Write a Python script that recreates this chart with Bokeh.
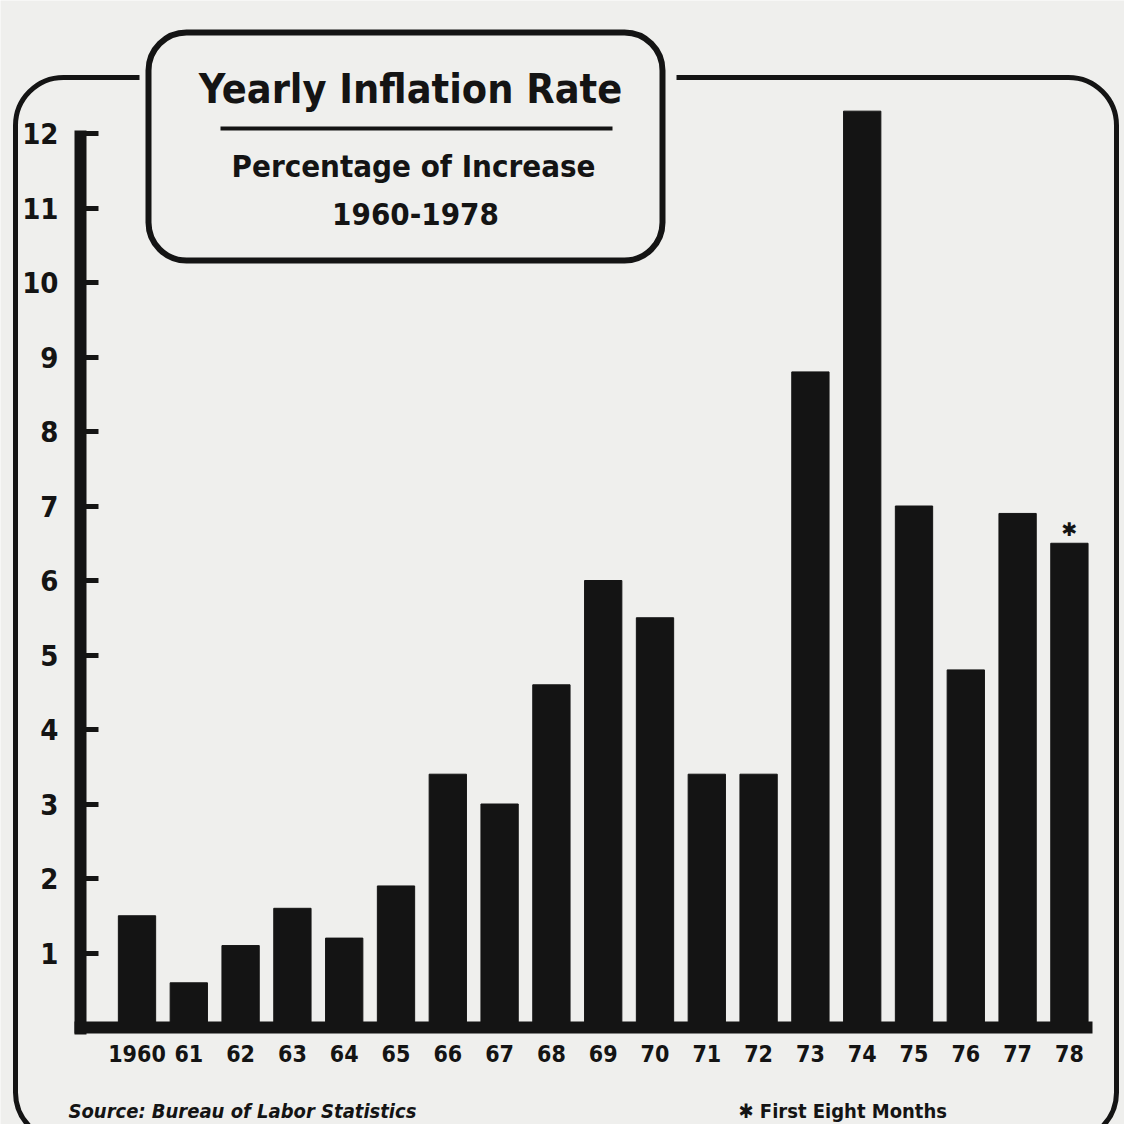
from bokeh.plotting import figure
from bokeh.models import Range1d, LinearAxis, FixedTicker, BoxAnnotation, Label
from bokeh.embed import file_html
from bokeh.resources import INLINE
from bokeh.core.properties import value

# ---- data -------------------------------------------------------------
years = ["1960", "61", "62", "63", "64", "65", "66", "67", "68", "69",
         "70", "71", "72", "73", "74", "75", "76", "77", "78"]
rates = [1.5, 0.6, 1.1, 1.6, 1.2, 1.9, 3.4, 3.0, 4.6, 6.0,
         5.5, 3.4, 3.4, 8.8, 12.3, 7.0, 4.8, 6.9, 6.5]
y_ticks = [1, 2, 3, 4, 5, 6, 7, 8, 9, 10, 11, 12]
title_text = "Yearly Inflation Rate"
subtitle_text = "Percentage of Increase"
period_text = "1960-1978"
source_text = "Source: Bureau of Labor Statistics"
partial_marker = "✱"
footnote_text = "✱ First Eight Months"

# ---- layout (page pixel geometry) --------------------------------------
W = H = 1124
ORIGIN = 0        # page offset of the canvas
X_FIRST = 136.5   # page x of first bar centre
X_STEP = 51.8     # page px between bars
Y_ZERO = 1027.0   # page y of 0 %
Y_UNIT = 74.5     # page px per 1 %

def dx(px):
    return (px - X_FIRST) / X_STEP

def dy(py):
    return (Y_ZERO - py) / Y_UNIT

INK = "#141414"
PAPER = "#efefed"
COND = "DejaVu Sans Condensed"

p = figure(width=W, height=H,
           x_range=Range1d(dx(ORIGIN), dx(ORIGIN + W)),
           y_range=Range1d(dy(ORIGIN + H), dy(ORIGIN)),
           output_backend="svg", toolbar_location=None,
           x_axis_type=None, y_axis_type=None, min_border=0)
p.background_fill_color = PAPER
p.border_fill_color = PAPER
p.outline_line_color = None
p.grid.visible = False

xs = list(range(len(years)))
p.vbar(x=xs, top=rates, bottom=0, width=0.72, fill_color=INK, line_color=INK)

# asterisk over the partial year
p.text(x=[xs[-1]], y=[rates[-1]], text=[partial_marker],
       text_align="center", text_baseline="bottom", y_offset=-3,
       text_font=value("DejaVu Sans"), text_font_size=value("19px"),
       text_font_style="bold", text_color=INK)

# ---- axes --------------------------------------------------------------
yax = LinearAxis(fixed_location=dx(80), ticker=FixedTicker(ticks=y_ticks),
                 bounds=(-0.1, 12.04))
yax.axis_line_width = 12
yax.axis_line_color = INK
yax.major_tick_in = 18
yax.major_tick_out = 0
yax.major_tick_line_width = 5
yax.major_tick_line_color = INK
yax.minor_tick_line_color = None
yax.major_label_standoff = 22
yax.major_label_text_font = COND
yax.major_label_text_font_size = "29px"
yax.major_label_text_font_style = "bold"
yax.major_label_text_color = INK
p.add_layout(yax, "left")

xax = LinearAxis(fixed_location=0, ticker=FixedTicker(ticks=xs),
                 bounds=(dx(74), dx(1092)))
xax.major_label_overrides = {i: years[i] for i in xs}
xax.axis_line_width = 12
xax.axis_line_color = INK
xax.major_tick_in = 0
xax.major_tick_out = 0
xax.major_tick_line_color = None
xax.minor_tick_line_color = None
xax.major_label_standoff = 17
xax.major_label_text_font = COND
xax.major_label_text_font_size = "23px"
xax.major_label_text_font_style = "bold"
xax.major_label_text_color = INK
p.add_layout(xax, "below")

# ---- frames ------------------------------------------------------------
outer = BoxAnnotation(left=dx(15), right=dx(1116), top=dy(77), bottom=dy(1140),
                      border_radius=48, line_color=INK, line_alpha=1,
                      line_width=5, fill_alpha=0)
gap = BoxAnnotation(left=dx(139), right=dx(676), top=dy(68), bottom=dy(88),
                    line_color=None, fill_color=PAPER, fill_alpha=1)
title_box = BoxAnnotation(left=dx(148), right=dx(662), top=dy(32), bottom=dy(260),
                          border_radius=38, line_color=INK, line_alpha=1,
                          line_width=6, fill_alpha=0)
rule = BoxAnnotation(left=dx(220), right=dx(612), top=dy(126), bottom=dy(130),
                     line_color=None, fill_color=INK, fill_alpha=1)
for a in (outer, gap, title_box, rule):
    p.add_layout(a)

# ---- texts -------------------------------------------------------------
def add_label(px, py, text, size, align="center", style="bold", baseline="middle"):
    p.add_layout(Label(x=dx(px), y=dy(py), text=text, text_align=align,
                       text_baseline=baseline, text_font=COND,
                       text_font_size=size, text_font_style=style,
                       text_color=INK))

add_label(410, 88, title_text, "41px")
add_label(413, 165, subtitle_text, "31px")
add_label(415, 213, period_text, "31px")
add_label(68, 1098, source_text, "20px", align="left", style="bold italic", baseline="top")
add_label(738, 1098, footnote_text, "20px", align="left", baseline="top")

open("out.html", "w").write(file_html(p, INLINE))
